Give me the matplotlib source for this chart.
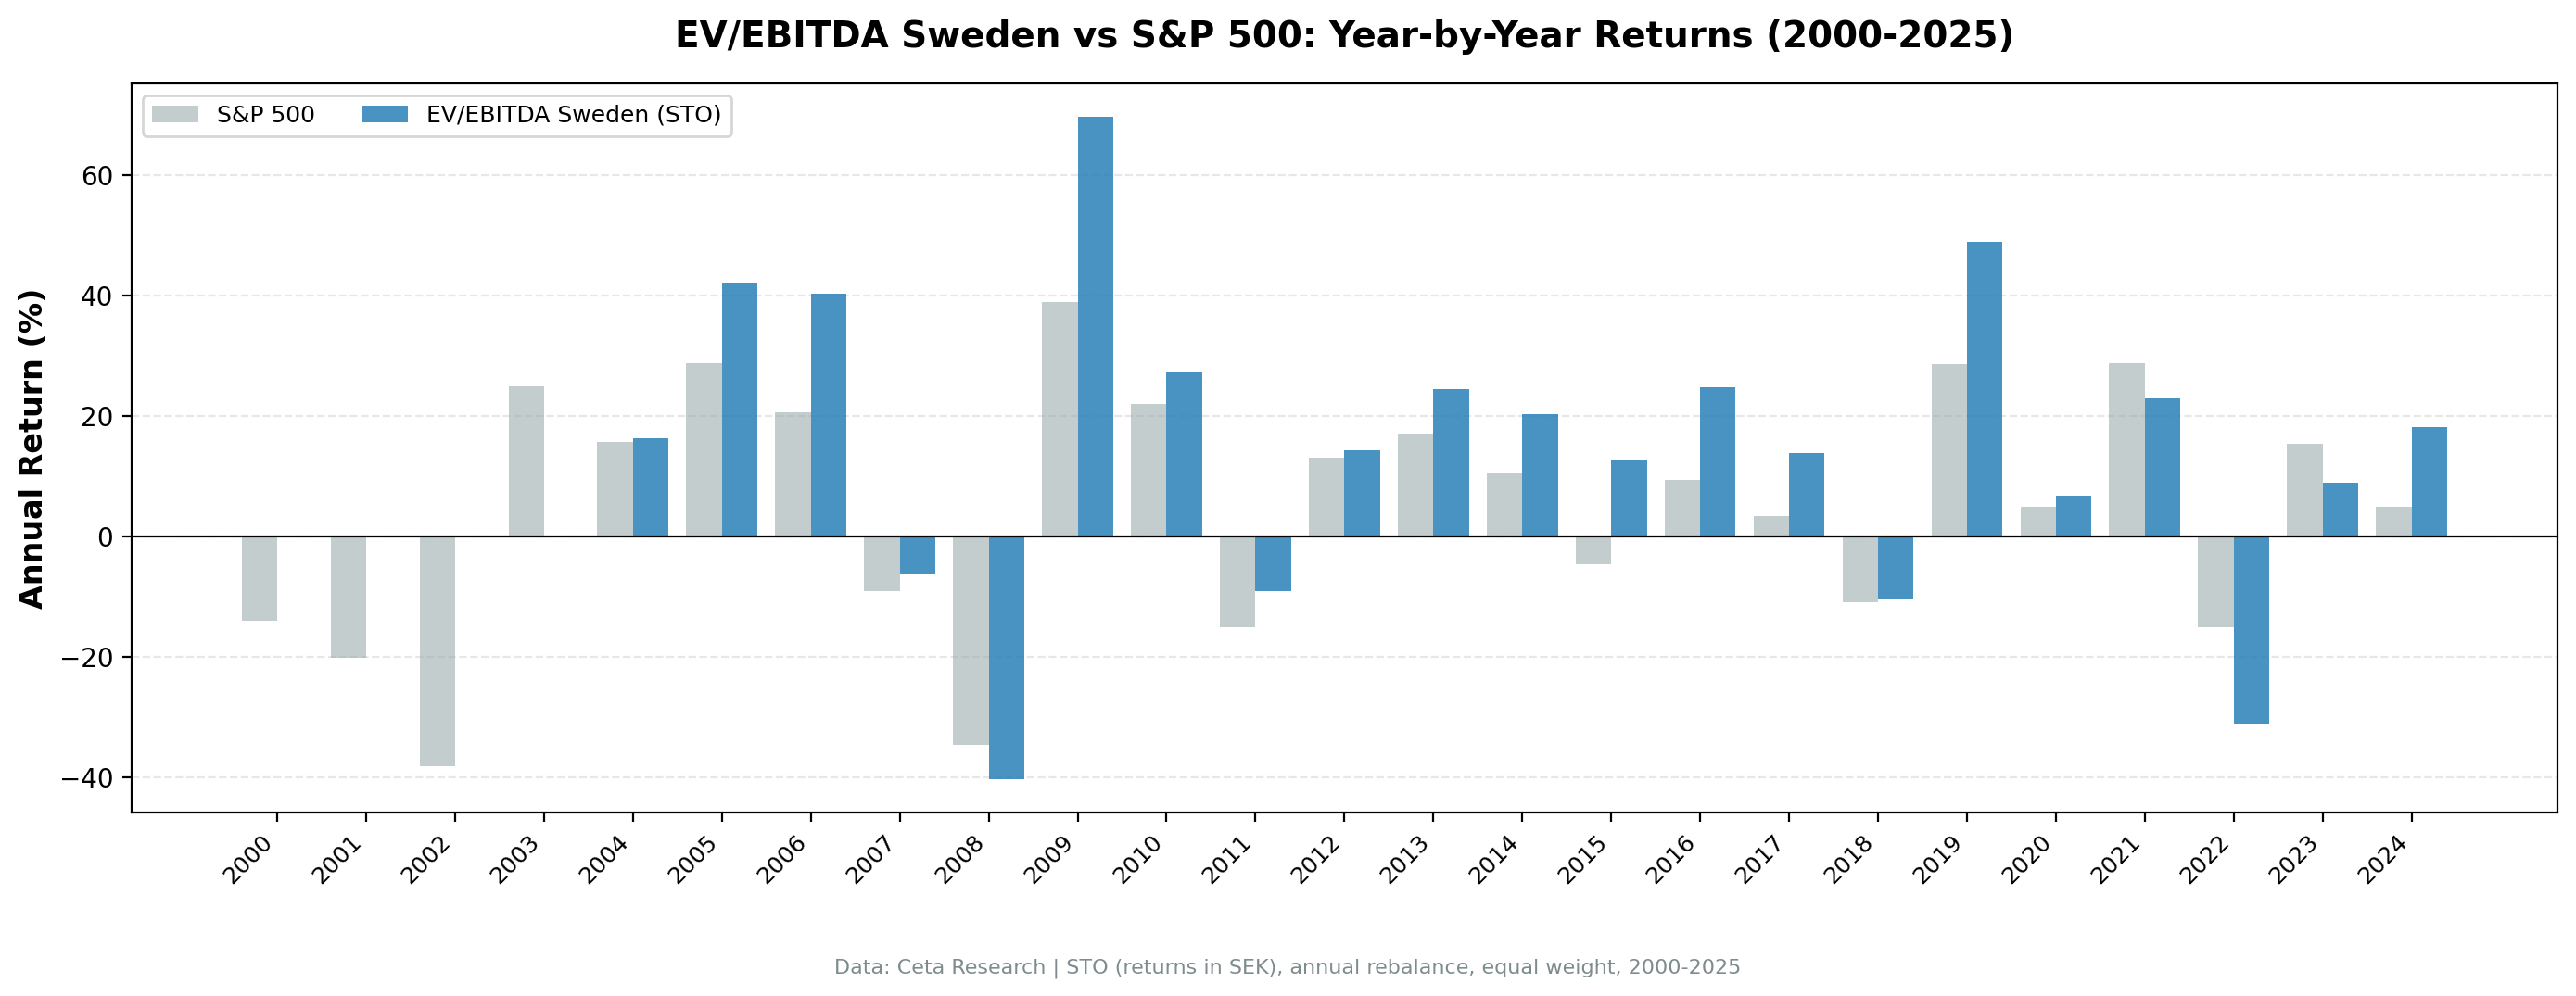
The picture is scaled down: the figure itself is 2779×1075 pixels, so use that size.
import numpy as np
import matplotlib
matplotlib.use("Agg")
import matplotlib.pyplot as plt

years = list(range(2000, 2025))
sp500 = [-13.9, -20.1, -38.1, 25.0, 15.8, 28.8, 20.7, -9.0, -34.6, 38.9,
         22.0, -15.0, 13.1, 17.1, 10.6, -4.6, 9.5, 3.5, -10.9, 28.6,
         4.9, 28.8, -15.0, 15.5, 4.9]
ev_sweden = [np.nan, np.nan, np.nan, np.nan, 16.3, 42.2, 40.3, -6.3, -40.3, 69.7,
             27.2, -9.0, 14.4, 24.5, 20.4, 12.8, 24.8, 13.9, -10.3, 49.0,
             6.8, 22.9, -31.0, 9.0, 18.2]

x = np.arange(len(years))
w = 0.4

fig, ax = plt.subplots(figsize=(13.895, 5.375), dpi=200)
fig.subplots_adjust(left=0.051, right=0.9928, top=0.916, bottom=0.184)

ax.bar(x - w / 2, sp500, w, color="#95a5a6", alpha=0.55, label="S&P 500")
ax.bar(x + w / 2, ev_sweden, w, color="#2980b9", alpha=0.85, label="EV/EBITDA Sweden (STO)")
ax.axhline(0, color="black", linewidth=0.8)

ax.set_xticks(x)
ax.set_xticklabels(years, rotation=45, ha="right", fontsize=9)
ax.tick_params(axis="y", labelsize=10)
ax.set_ylabel("Annual Return (%)", fontsize=12, fontweight="bold")
ax.set_title("EV/EBITDA Sweden vs S&P 500: Year-by-Year Returns (2000-2025)",
             fontsize=14, fontweight="bold", pad=14)
ax.grid(axis="y", linestyle="--", alpha=0.3)
ax.set_axisbelow(True)
ax.legend(loc="upper left", ncol=2, fontsize=9)

fig.text(0.5, 0.023, "Data: Ceta Research | STO (returns in SEK), annual rebalance, equal weight, 2000-2025",
         ha="center", fontsize=8, color="#7f8c8d")

plt.savefig("out.png", dpi=200)
